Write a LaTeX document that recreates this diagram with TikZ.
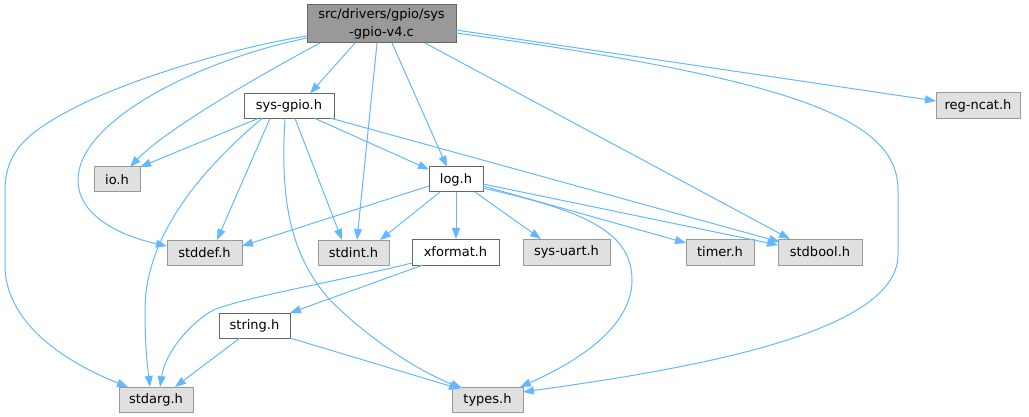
\documentclass[tikz,border=0pt]{standalone}
\usepackage{fontspec}
\setmainfont{DejaVu Sans}
\usetikzlibrary{arrows.meta}
\definecolor{edgeblue}{HTML}{63B8FF}
\definecolor{grayA}{HTML}{666666}
\definecolor{grayB}{HTML}{999999}
\definecolor{grayC}{HTML}{E0E0E0}
\tikzset{
  box/.style={draw=grayA, line width=1pt, fill=white, inner sep=0pt, minimum height=25pt,
    font=\fontsize{13}{18}\selectfont, text=black},
  extbox/.style={box, draw=grayB, fill=grayC},
  rootbox/.style={box, draw=grayA, fill=grayB, align=center},
  edge/.style={draw=edgeblue, line width=1pt, -{Triangle[length=11pt,width=8pt]}}
}
\begin{document}
\begin{tikzpicture}[x=1pt,y=-1pt]
\useasboundingbox (0,0) rectangle (1029,417);
% nodes
\node[rootbox, minimum width=149pt, minimum height=38pt] (root) at (381.5,24) {src/drivers/gpio/sys\\-gpio-v4.c};
\node[box, minimum width=90pt] (sysgpio) at (289,106) {sys-gpio.h};
\node[box, minimum width=54pt] (log) at (456,179.5) {log.h};
\node[extbox, minimum width=46pt] (io) at (117,179.5) {io.h};
\node[extbox, minimum width=75pt] (stddef) at (204.5,252.5) {stddef.h};
\node[extbox, minimum width=71pt] (stdint) at (353.5,252.5) {stdint.h};
\node[box, minimum width=87pt, minimum height=26pt] (xformat) at (455.5,252) {xformat.h};
\node[extbox, minimum width=87pt, minimum height=26pt] (sysuart) at (566.5,252) {sys-uart.h};
\node[extbox, minimum width=68pt, minimum height=26pt] (timer) at (720,252) {timer.h};
\node[extbox, minimum width=84pt, minimum height=26pt] (stdbool) at (820,252) {stdbool.h};
\node[box, minimum width=71pt] (string) at (254.5,325.5) {string.h};
\node[extbox, minimum width=74pt] (stdarg) at (156,399.5) {stdarg.h};
\node[extbox, minimum width=71pt] (types) at (487.5,399.5) {types.h};
\node[extbox, minimum width=84pt, minimum height=26pt] (regncat) at (978,106) {reg-ncat.h};
% edges from root
\draw[edge] ([shift={(-26.5,19)}]root.center) -- ([shift={(21,-12.5)}]sysgpio.center);
\draw[edge] ([shift={(-61.5,19)}]root.center) .. controls (260,75) and (165,130) .. ([shift={(13,-12.5)}]io.center);
\draw[edge] ([shift={(-74.5,14)}]root.center) .. controls (200,60) and (78,120) .. (78,180) .. controls (78,220) and (130,238) .. ([shift={(-37.5,-6.5)}]stddef.center);
\draw[edge] ([shift={(-74.5,12)}]root.center) .. controls (230,48) and (130,80) .. (80,105) .. controls (30,130) and (5,150) .. (5,190) -- (5,265) .. controls (5,330) and (80,368) .. ([shift={(-28,-12.5)}]stdarg.center);
\draw[edge] ([shift={(-4.5,19)}]root.center) -- ([shift={(3.5,-12.5)}]stdint.center);
\draw[edge] ([shift={(10.5,19)}]root.center) -- ([shift={(-9,-12.5)}]log.center);
\draw[edge] ([shift={(43.5,19)}]root.center) -- ([shift={(-30,-13)}]stdbool.center);
\draw[edge] ([shift={(74.5,9)}]root.center) .. controls (800,80) and (898,120) .. (898,190) -- (898,255) .. controls (898,335) and (680,370) .. ([shift={(35.5,-7.5)}]types.center);
\draw[edge] ([shift={(74.5,6)}]root.center) -- ([shift={(-42,-5)}]regncat.center);
% edges from sys-gpio.h
\draw[edge] ([shift={(-31,12.5)}]sysgpio.center) -- ([shift={(23,-12.5)}]io.center);
\draw[edge] ([shift={(26,12.5)}]sysgpio.center) -- ([shift={(-27,-10)}]log.center);
\draw[edge] ([shift={(-19,12.5)}]sysgpio.center) -- ([shift={(12.5,-12.5)}]stddef.center);
\draw[edge] ([shift={(6,12.5)}]sysgpio.center) -- ([shift={(-11.5,-12.5)}]stdint.center);
\draw[edge] ([shift={(-27,12.5)}]sysgpio.center) .. controls (195,175) and (145,240) .. (145,310) .. controls (145,350) and (148,370) .. ([shift={(-6,-12.5)}]stdarg.center);
\draw[edge] ([shift={(-4,12.5)}]sysgpio.center) .. controls (280,200) and (290,255) .. (330,300) .. controls (370,340) and (420,372) .. ([shift={(-25.5,-11.5)}]types.center);
\draw[edge] ([shift={(41,12)}]sysgpio.center) -- ([shift={(-40,-10)}]stdbool.center);
% edges from log.h
\draw[edge] ([shift={(-27,6.5)}]log.center) -- ([shift={(37.5,-6.5)}]stddef.center);
\draw[edge] ([shift={(-16,12.5)}]log.center) -- ([shift={(26.5,-12.5)}]stdint.center);
\draw[edge] ([shift={(0,12.5)}]log.center) -- ([shift={(0.5,-13)}]xformat.center);
\draw[edge] ([shift={(19,12.5)}]log.center) -- ([shift={(-25.5,-13)}]sysuart.center);
\draw[edge] ([shift={(27,6.5)}]log.center) -- ([shift={(-34,-9)}]timer.center);
\draw[edge] ([shift={(27,4.5)}]log.center) -- ([shift={(-42,-7)}]stdbool.center);
\draw[edge] ([shift={(27,8.5)}]log.center) .. controls (580,210) and (632,230) .. (632,280) .. controls (632,330) and (570,365) .. ([shift={(32.5,-12.5)}]types.center);
% edges from xformat.h
\draw[edge] ([shift={(-32.5,13)}]xformat.center) -- ([shift={(35.5,-12.5)}]string.center);
\draw[edge] ([shift={(-43.5,11)}]xformat.center) .. controls (330,283) and (230,300) .. (210,312) .. controls (185,328) and (165,355) .. ([shift={(4,-12.5)}]stdarg.center);
% edges from string.h
\draw[edge] ([shift={(-14.5,12.5)}]string.center) -- ([shift={(19,-12.5)}]stdarg.center);
\draw[edge] ([shift={(35.5,12.5)}]string.center) -- ([shift={(-27.5,-10.5)}]types.center);
\end{tikzpicture}
\end{document}
